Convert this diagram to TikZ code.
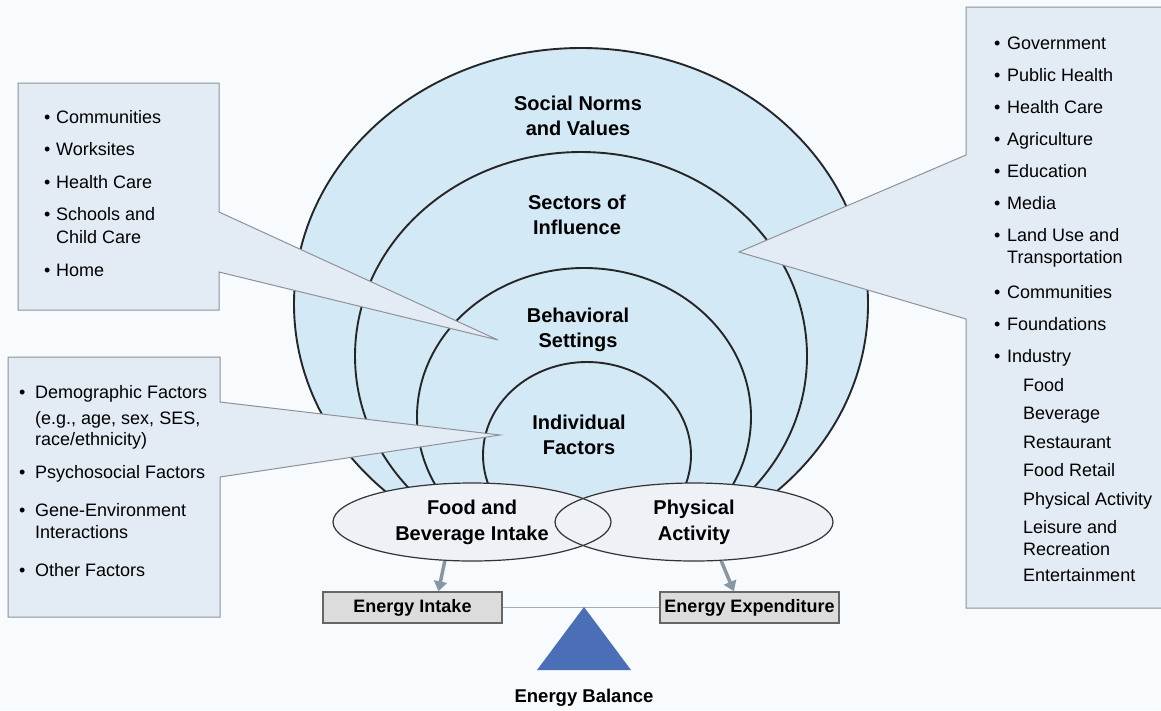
\documentclass[tikz,border=0pt]{standalone}
\usepackage{fontspec}
\setmainfont{Liberation Sans}
\usetikzlibrary{shapes.geometric,arrows.meta}

\definecolor{bgcol}{HTML}{F7FBFD}
\definecolor{ringblue}{HTML}{D3E9F5}
\definecolor{ovalfill}{HTML}{EEF1F5}
\definecolor{calloutfill}{HTML}{E3ECF5}
\definecolor{calloutline}{HTML}{8E9296}
\definecolor{eboxfill}{HTML}{DCDCDC}
\definecolor{flowgray}{HTML}{8A97A3}
\definecolor{fulcrum}{HTML}{4B6FB6}

\newcommand{\bul}[1]{\makebox[#1][l]{•}}

\begin{document}
\begin{tikzpicture}[x=1pt,y=-1pt,
    ring/.style={draw=black!85,line width=1.9pt,fill=ringblue},
    ringlabel/.style={font=\fontsize{20}{25}\selectfont\bfseries,align=center,inner sep=0pt},
    oval/.style={ellipse,draw=black!80,line width=1.2pt,minimum width=278pt,minimum height=78pt,
                 inner sep=0pt,align=center,font=\fontsize{20}{26}\selectfont\bfseries},
    callout/.style={fill=calloutfill,draw=calloutline,line width=1pt},
    listtext/.style={align=left,inner sep=0pt,anchor=north west,font=\fontsize{18}{21.5}\selectfont},
    ebox/.style={draw=black!60,line width=1.4pt,fill=eboxfill,minimum width=179pt,minimum height=31pt,
                 inner sep=0pt,font=\fontsize{18}{20}\selectfont\bfseries},
    flow/.style={draw=flowgray,line width=3.5pt,-{Triangle[length=10pt,width=13pt]}}]
    \useasboundingbox (0,0) rectangle (1161,710);
    \fill[bgcol] (0,0) rectangle (1161,710);

    % nested rings, cut off under the two ovals
    \begin{scope}
    \clip (0,0) rectangle (1161,503);
    \draw[ring] (581,304) ellipse [x radius=287,y radius=256];
    \draw[ring] (581,356) ellipse [x radius=226,y radius=204];
    \draw[ring] (584,417) ellipse [x radius=167,y radius=149];
    \draw[ring] (587,455) ellipse [x radius=104,y radius=93];
    \end{scope}
    \node[ringlabel] (norms) at (578,116) {Social Norms\\and Values};
    \node[ringlabel] (sectors) at (577,215) {Sectors of\\Influence};
    \node[ringlabel] (settings) at (578,330) {Behavioral\\Settings};
    \node[ringlabel] (individual) at (579,435) {Individual\\Factors};

    % the two ovals
    \fill[ovalfill] (472,522) ellipse [x radius=139,y radius=39]
                    (694,522) ellipse [x radius=139,y radius=39];
    \node[oval] (food) at (472,522) {Food and\\Beverage Intake};
    \node[oval] (activity) at (694,522) {Physical\\Activity};

    % callouts
    \filldraw[callout] (18,83) -- (219,83) -- (219,212) -- (498,340) -- (219,272)
        -- (219,310) -- (18,310) -- cycle;
    \node[listtext] (settinglist) at (44,110) {%
        \bul{12pt}Communities\\[11pt]
        \bul{12pt}Worksites\\[11pt]
        \bul{12pt}Health Care\\[11pt]
        \bul{12pt}Schools and\\[1.5pt]
        \hspace*{12pt}Child Care\\[11pt]
        \bul{12pt}Home};

    \filldraw[callout] (8,357) -- (220,357) -- (220,402) -- (500,435) -- (220,477)
        -- (220,617) -- (8,617) -- cycle;
    \node[listtext] (factorlist) at (19,385) {%
        \bul{16pt}Demographic Factors\\[4.5pt]
        \hspace*{16pt}(e.g., age, sex, SES,\\
        \hspace*{16pt}race/ethnicity)\\[11pt]
        \bul{16pt}Psychosocial Factors\\[17pt]
        \bul{16pt}Gene-Environment\\
        \hspace*{16pt}Interactions\\[17pt]
        \bul{16pt}Other Factors};

    \filldraw[callout] (966,7) -- (1170,7) -- (1170,608) -- (966,608) -- (966,319)
        -- (739,252) -- (966,155) -- cycle;
    \node[listtext] (sectorlist) at (994,37) {%
        \bul{13pt}Government\\[10.5pt]
        \bul{13pt}Public Health\\[10.5pt]
        \bul{13pt}Health Care\\[10.5pt]
        \bul{13pt}Agriculture\\[10.5pt]
        \bul{13pt}Education\\[10.5pt]
        \bul{13pt}Media\\[10.5pt]
        \bul{13pt}Land Use and\\
        \hspace*{13pt}Transportation\\[14pt]
        \bul{13pt}Communities\\[10.5pt]
        \bul{13pt}Foundations\\[10.5pt]
        \bul{13pt}Industry\\[7pt]
        \hspace*{29pt}Food\\[7pt]
        \hspace*{29pt}Beverage\\[7pt]
        \hspace*{29pt}Restaurant\\[7pt]
        \hspace*{29pt}Food Retail\\[7pt]
        \hspace*{29pt}Physical Activity\\[7pt]
        \hspace*{29pt}Leisure and\\
        \hspace*{29pt}Recreation\\[5pt]
        \hspace*{29pt}Entertainment};

    % energy balance
    \node[ebox] (intake) at (412.5,607.5) {Energy Intake};
    \node[ebox] (expend) at (749.5,607.5) {Energy Expenditure};
    \draw[flowgray!80,line width=1.2pt] (intake.east) -- (expend.west);
    \fill[fulcrum] (584,607) -- (631,670) -- (537,670) -- cycle;
    \node[font=\fontsize{18.5}{20}\selectfont\bfseries] (balance) at (584,698) {Energy Balance};
    \draw[flow] (food.235) -- (intake.32);
    \draw[flow] (activity.-55) -- (expend.134);
\end{tikzpicture}
\end{document}
